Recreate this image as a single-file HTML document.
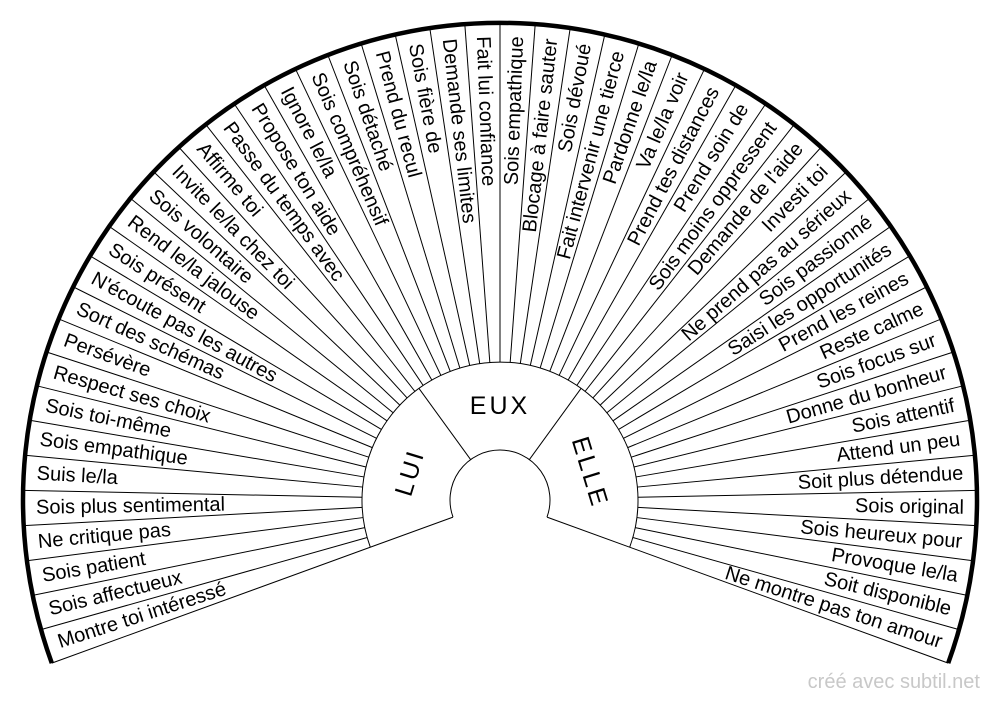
<!DOCTYPE html>
<html><head><meta charset="utf-8"><style>
html,body{margin:0;padding:0;background:#fff;}
svg{display:block;}
text{font-family:"Liberation Sans",sans-serif;fill:#000;}
.o{font-size:20px;dominant-baseline:central;}
.r{font-size:25px;letter-spacing:3px;text-anchor:middle;dominant-baseline:central;}
</style></head><body>
<svg width="1000" height="702" viewBox="0 0 1000 702" xmlns="http://www.w3.org/2000/svg">
<g stroke="#000" stroke-width="1" fill="none">
<path d="M370.3,547.2 A138,138 0 1 1 629.7,547.2"/>
<path d="M453,517.1 A50,50 0 1 1 547,517.1"/>
<line x1="550" y1="500" x2="977" y2="500" transform="rotate(160 500 500)"/>
<line x1="550" y1="500" x2="977" y2="500" transform="rotate(380 500 500)"/>
<line x1="550" y1="500" x2="638" y2="500" transform="rotate(234 500 500)"/>
<line x1="550" y1="500" x2="638" y2="500" transform="rotate(306 500 500)"/>
<g>
<line x1="638" y1="500" x2="977" y2="500" transform="rotate(164.23 500 500)"/>
<line x1="638" y1="500" x2="977" y2="500" transform="rotate(168.46 500 500)"/>
<line x1="638" y1="500" x2="977" y2="500" transform="rotate(172.69 500 500)"/>
<line x1="638" y1="500" x2="977" y2="500" transform="rotate(176.92 500 500)"/>
<line x1="638" y1="500" x2="977" y2="500" transform="rotate(181.15 500 500)"/>
<line x1="638" y1="500" x2="977" y2="500" transform="rotate(185.38 500 500)"/>
<line x1="638" y1="500" x2="977" y2="500" transform="rotate(189.62 500 500)"/>
<line x1="638" y1="500" x2="977" y2="500" transform="rotate(193.85 500 500)"/>
<line x1="638" y1="500" x2="977" y2="500" transform="rotate(198.08 500 500)"/>
<line x1="638" y1="500" x2="977" y2="500" transform="rotate(202.31 500 500)"/>
<line x1="638" y1="500" x2="977" y2="500" transform="rotate(206.54 500 500)"/>
<line x1="638" y1="500" x2="977" y2="500" transform="rotate(210.77 500 500)"/>
<line x1="638" y1="500" x2="977" y2="500" transform="rotate(215 500 500)"/>
<line x1="638" y1="500" x2="977" y2="500" transform="rotate(219.23 500 500)"/>
<line x1="638" y1="500" x2="977" y2="500" transform="rotate(223.46 500 500)"/>
<line x1="638" y1="500" x2="977" y2="500" transform="rotate(227.69 500 500)"/>
<line x1="638" y1="500" x2="977" y2="500" transform="rotate(231.92 500 500)"/>
<line x1="638" y1="500" x2="977" y2="500" transform="rotate(236.15 500 500)"/>
<line x1="638" y1="500" x2="977" y2="500" transform="rotate(240.38 500 500)"/>
<line x1="638" y1="500" x2="977" y2="500" transform="rotate(244.62 500 500)"/>
<line x1="638" y1="500" x2="977" y2="500" transform="rotate(248.85 500 500)"/>
<line x1="638" y1="500" x2="977" y2="500" transform="rotate(253.08 500 500)"/>
<line x1="638" y1="500" x2="977" y2="500" transform="rotate(257.31 500 500)"/>
<line x1="638" y1="500" x2="977" y2="500" transform="rotate(261.54 500 500)"/>
<line x1="638" y1="500" x2="977" y2="500" transform="rotate(265.77 500 500)"/>
<line x1="638" y1="500" x2="977" y2="500" transform="rotate(270 500 500)"/>
<line x1="638" y1="500" x2="977" y2="500" transform="rotate(274.23 500 500)"/>
<line x1="638" y1="500" x2="977" y2="500" transform="rotate(278.46 500 500)"/>
<line x1="638" y1="500" x2="977" y2="500" transform="rotate(282.69 500 500)"/>
<line x1="638" y1="500" x2="977" y2="500" transform="rotate(286.92 500 500)"/>
<line x1="638" y1="500" x2="977" y2="500" transform="rotate(291.15 500 500)"/>
<line x1="638" y1="500" x2="977" y2="500" transform="rotate(295.38 500 500)"/>
<line x1="638" y1="500" x2="977" y2="500" transform="rotate(299.62 500 500)"/>
<line x1="638" y1="500" x2="977" y2="500" transform="rotate(303.85 500 500)"/>
<line x1="638" y1="500" x2="977" y2="500" transform="rotate(308.08 500 500)"/>
<line x1="638" y1="500" x2="977" y2="500" transform="rotate(312.31 500 500)"/>
<line x1="638" y1="500" x2="977" y2="500" transform="rotate(316.54 500 500)"/>
<line x1="638" y1="500" x2="977" y2="500" transform="rotate(320.77 500 500)"/>
<line x1="638" y1="500" x2="977" y2="500" transform="rotate(325 500 500)"/>
<line x1="638" y1="500" x2="977" y2="500" transform="rotate(329.23 500 500)"/>
<line x1="638" y1="500" x2="977" y2="500" transform="rotate(333.46 500 500)"/>
<line x1="638" y1="500" x2="977" y2="500" transform="rotate(337.69 500 500)"/>
<line x1="638" y1="500" x2="977" y2="500" transform="rotate(341.92 500 500)"/>
<line x1="638" y1="500" x2="977" y2="500" transform="rotate(346.15 500 500)"/>
<line x1="638" y1="500" x2="977" y2="500" transform="rotate(350.38 500 500)"/>
<line x1="638" y1="500" x2="977" y2="500" transform="rotate(354.62 500 500)"/>
<line x1="638" y1="500" x2="977" y2="500" transform="rotate(358.85 500 500)"/>
<line x1="638" y1="500" x2="977" y2="500" transform="rotate(363.08 500 500)"/>
<line x1="638" y1="500" x2="977" y2="500" transform="rotate(367.31 500 500)"/>
<line x1="638" y1="500" x2="977" y2="500" transform="rotate(371.54 500 500)"/>
<line x1="638" y1="500" x2="977" y2="500" transform="rotate(375.77 500 500)"/>
</g>
<path d="M51.8,663.1 A477,477 0 1 1 948.2,663.1" stroke-width="4.5"/>
</g>
<g class="o">
<text x="36" y="500" transform="rotate(342.12 500 500)">Montre toi intéressé</text>
<text x="36" y="500" transform="rotate(346.35 500 500)">Sois affectueux</text>
<text x="36" y="500" transform="rotate(350.58 500 500)">Sois patient</text>
<text x="36" y="500" transform="rotate(354.81 500 500)">Ne critique pas</text>
<text x="36" y="500" transform="rotate(359.04 500 500)">Sois plus sentimental</text>
<text x="36" y="500" transform="rotate(363.27 500 500)">Suis le/la</text>
<text x="36" y="500" transform="rotate(367.50 500 500)">Sois empathique</text>
<text x="36" y="500" transform="rotate(371.73 500 500)">Sois toi-même</text>
<text x="36" y="500" transform="rotate(375.96 500 500)">Respect ses choix</text>
<text x="36" y="500" transform="rotate(380.19 500 500)">Persévère</text>
<text x="36" y="500" transform="rotate(384.42 500 500)">Sort des schémas</text>
<text x="36" y="500" transform="rotate(388.65 500 500)">N'écoute pas les autres</text>
<text x="36" y="500" transform="rotate(392.88 500 500)">Sois présent</text>
<text x="36" y="500" transform="rotate(397.12 500 500)">Rend le/la jalouse</text>
<text x="36" y="500" transform="rotate(401.35 500 500)">Sois volontaire</text>
<text x="36" y="500" transform="rotate(405.58 500 500)">Invite le/la chez toi</text>
<text x="36" y="500" transform="rotate(409.81 500 500)">Affirme toi</text>
<text x="36" y="500" transform="rotate(414.04 500 500)">Passe du temps avec</text>
<text x="36" y="500" transform="rotate(418.27 500 500)">Propose ton aide</text>
<text x="36" y="500" transform="rotate(422.50 500 500)">Ignore le/la</text>
<text x="36" y="500" transform="rotate(426.73 500 500)">Sois compréhensif</text>
<text x="36" y="500" transform="rotate(430.96 500 500)">Sois détaché</text>
<text x="36" y="500" transform="rotate(435.19 500 500)">Prend du recul</text>
<text x="36" y="500" transform="rotate(439.42 500 500)">Sois fière de</text>
<text x="36" y="500" transform="rotate(443.65 500 500)">Demande ses limites</text>
<text x="36" y="500" transform="rotate(447.88 500 500)">Fait lui confiance</text>
</g>
<g class="o" text-anchor="end">
<text x="964" y="500" transform="rotate(272.12 500 500)">Sois empathique</text>
<text x="964" y="500" transform="rotate(276.35 500 500)">Blocage à faire sauter</text>
<text x="964" y="500" transform="rotate(280.58 500 500)">Sois dévoué</text>
<text x="964" y="500" transform="rotate(284.81 500 500)">Fait intervenir une tierce</text>
<text x="964" y="500" transform="rotate(289.04 500 500)">Pardonne le/la</text>
<text x="964" y="500" transform="rotate(293.27 500 500)">Va le/la voir</text>
<text x="964" y="500" transform="rotate(297.50 500 500)">Prend tes distances</text>
<text x="964" y="500" transform="rotate(301.73 500 500)">Prend soin de</text>
<text x="964" y="500" transform="rotate(305.96 500 500)">Sois moins oppressent</text>
<text x="964" y="500" transform="rotate(310.19 500 500)">Demande de l'aide</text>
<text x="964" y="500" transform="rotate(314.42 500 500)">Investi toi</text>
<text x="964" y="500" transform="rotate(318.65 500 500)">Ne prend pas au sérieux</text>
<text x="964" y="500" transform="rotate(322.88 500 500)">Sois passionné</text>
<text x="964" y="500" transform="rotate(327.12 500 500)">Saisi les opportunités</text>
<text x="964" y="500" transform="rotate(331.35 500 500)">Prend les reines</text>
<text x="964" y="500" transform="rotate(335.58 500 500)">Reste calme</text>
<text x="964" y="500" transform="rotate(339.81 500 500)">Sois focus sur</text>
<text x="964" y="500" transform="rotate(344.04 500 500)">Donne du bonheur</text>
<text x="964" y="500" transform="rotate(348.27 500 500)">Sois attentif</text>
<text x="964" y="500" transform="rotate(352.50 500 500)">Attend un peu</text>
<text x="964" y="500" transform="rotate(356.73 500 500)">Soit plus détendue</text>
<text x="964" y="500" transform="rotate(360.96 500 500)">Sois original</text>
<text x="964" y="500" transform="rotate(365.19 500 500)">Sois heureux pour</text>
<text x="964" y="500" transform="rotate(369.42 500 500)">Provoque le/la</text>
<text x="964" y="500" transform="rotate(373.65 500 500)">Soit disponible</text>
<text x="964" y="500" transform="rotate(377.88 500 500)">Ne montre pas ton amour</text>
</g>
<text class="r" x="500" y="406" transform="rotate(287 500 500)">LUI</text>
<text class="r" x="500" y="406">EUX</text>
<text class="r" x="500" y="406" transform="rotate(73 500 500)">ELLE</text>
<text x="980" y="688" text-anchor="end" style="font-size:20px;fill:#c8c8c8;">créé avec subtil.net</text>
</svg>
</body></html>
